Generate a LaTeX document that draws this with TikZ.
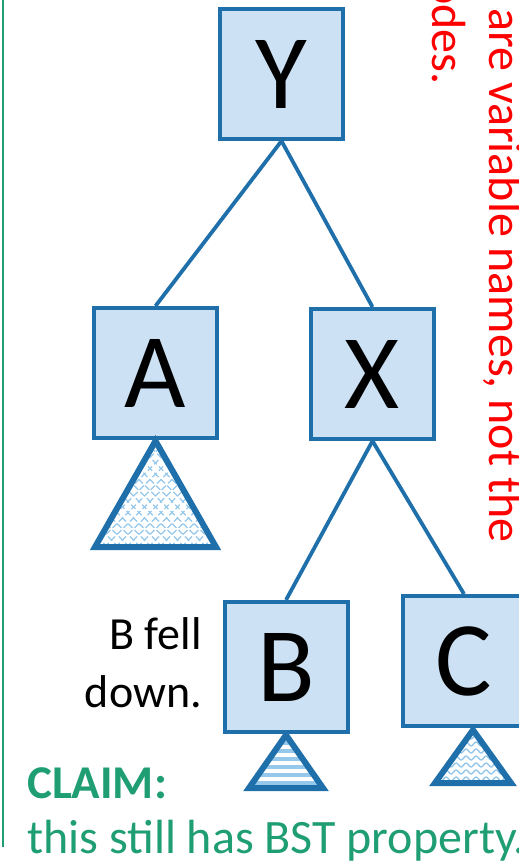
\documentclass[tikz,border=0pt]{standalone}
\usepackage{fontspec}
\setmainfont{Carlito}
\usetikzlibrary{calc}
\usetikzlibrary{decorations.pathmorphing}
\definecolor{boxblue}{RGB}{31,112,170}
\definecolor{boxfill}{RGB}{204,226,244}
\definecolor{hatchblue}{RGB}{150,200,236}
\definecolor{claimgreen}{RGB}{31,158,116}
\tikzstyle{bst}=[draw=boxblue,fill=boxfill,line width=4pt,minimum width=123pt,minimum height=130pt,inner sep=0pt,font=\fontsize{106}{106}\selectfont]
\tikzstyle{edge}=[draw=boxblue,line width=3.8pt]
\tikzstyle{subtree}=[draw=boxblue,line width=6pt,line join=miter]
\tikzstyle{hatch}=[hatchblue,line width=1.4pt]
\tikzstyle{say}=[inner sep=0pt,font=\fontsize{46}{46}\selectfont]
% #1 apex, #2 half width, #3 height, #4 filling
\newcommand\subtree[4]{%
  \begin{scope}
    \clip (#1) -- ++(-#2,#3) -- ++(2*#2,0) -- cycle;
    #4
  \end{scope}
  \draw[subtree] (#1) -- ++(-#2,#3) -- ++(2*#2,0) -- cycle;
}

\begin{document}
\begin{tikzpicture}[x=1pt,y=-1pt]
	\useasboundingbox (0,0) rectangle (519,862);
	\clip (0,0) rectangle (519,862);
	\draw[claimgreen,line width=2pt] (3,0) -- (3,847);
	\node[bst] (Y) at (281.5,74) {Y};
	\node[bst] (A) at (155.5,373) {A};
	\node[bst] (X) at (372.5,374) {X};
	\node[bst] (B) at (286,667) {B};
	\node[bst] (C) at (464,661) {C};
	\draw[edge] (Y.south) -- (A.north);
	\draw[edge] (Y.south) -- (X.north);
	\draw[edge] (X.south) -- (B.north);
	\draw[edge] (X.south) -- (C.north);
	\coordinate (ta) at ($(A.south)+(0,1)$);
	\coordinate (tb) at ($(B.south)+(0,1)$);
	\coordinate (tc) at ($(C.south)+(9,2)$);
	\subtree{ta}{60.5}{106}{%
		\foreach \k in {-16,...,16} {
			\draw[hatch,dash pattern=on 6pt off 3pt] ($(ta)+(\k*11,0)$) -- ++(130,130);
			\draw[hatch,dash pattern=on 6pt off 3pt] ($(ta)+(\k*11,0)$) -- ++(-130,130);
		}}
	\subtree{tb}{37}{53}{%
		\foreach \k in {1,...,7}
			\draw[hatchblue,line width=4pt] ($(tb)+(-50,8*\k)$) -- ++(100,0);}
	\subtree{tc}{38}{53}{%
		\foreach \k in {1,...,8}
			\draw[hatch,decorate,decoration={snake,segment length=10pt,amplitude=2pt}] ($(tc)+(-50,7*\k)$) -- ++(100,0);}
	\node[say,anchor=base east] (fell) at (202,649) {B fell};
	\node[say,anchor=base east] (down) at (202,707) {down.};
	\node[say,anchor=base west,text=claimgreen,font=\bfseries\fontsize{47}{47}\selectfont] (claim) at (27,798) {CLAIM:};
	\node[say,anchor=base west,text=claimgreen,font=\fontsize{48}{48}\selectfont] (still) at (27,853) {this still has BST property.};
	\node[say,rotate=-90,anchor=base west,text=red,font=\fontsize{48}{48}\selectfont] (names) at (489,8) {are variable names, not the};
	\node[say,rotate=-90,anchor=base east,text=red,font=\fontsize{48}{48}\selectfont] (nodes) at (432,85) {odes.};
\end{tikzpicture}
\end{document}
